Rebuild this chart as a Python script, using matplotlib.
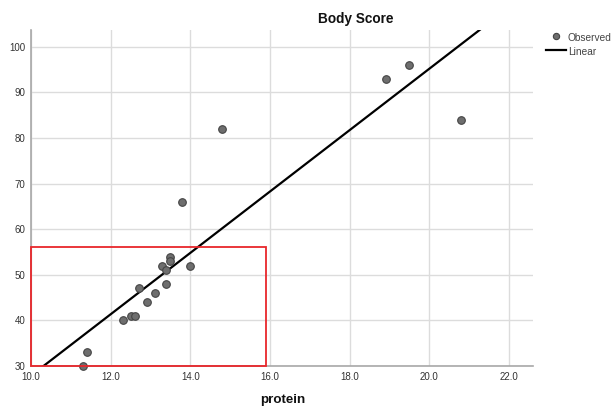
import numpy as np
import matplotlib
matplotlib.use("Agg")
import matplotlib.pyplot as plt
from matplotlib.patches import Rectangle

protein = [11.3, 11.4, 12.3, 12.5, 12.6, 12.7, 12.9, 13.1, 13.3, 13.4, 13.4,
           13.5, 13.5, 14.0, 13.8, 14.8, 18.9, 19.5, 20.8]
body_score = [30, 33, 40, 41, 41, 47, 44, 46, 52, 48, 51,
              54, 53, 52, 66, 82, 93, 96, 84]
x_ticks = [10.0, 12.0, 14.0, 16.0, 18.0, 20.0, 22.0]
y_ticks = [30, 40, 50, 60, 70, 80, 90, 100]
highlight_box = (10.0, 30, 15.9, 56.2)  # x0, y0, x1, y1

plt.rcParams['font.family'] = ['Liberation Sans', 'DejaVu Sans']

fig = plt.figure(figsize=(6.12, 4.12), dpi=100)
W, H = 612, 412
ax = fig.add_axes([31 / W, (H - 366) / H, (533 - 31) / W, (366 - 30) / H])

xmin, xmax = 10.0, 22.6
ymin, ymax = 30, 103.7
ax.set_xlim(xmin, xmax)
ax.set_ylim(ymin, ymax)

ax.set_xticks(x_ticks)
ax.set_xticklabels([f"{v:.1f}" for v in x_ticks])
ax.set_yticks(y_ticks)
ax.set_yticklabels([str(v) for v in y_ticks])
ax.grid(True, color='#dcdcdc', linewidth=1.0)
ax.set_axisbelow(True)
for s in ['top', 'right']:
    ax.spines[s].set_visible(False)
for s in ['left', 'bottom']:
    ax.spines[s].set_color('#a8a8a8')
    ax.spines[s].set_linewidth(1.2)
ax.tick_params(length=0, labelsize=7, colors='#333333', pad=4)

# fit line
slope, intercept = np.polyfit(protein, body_score, 1)
xs = np.array([xmin, xmax])
ax.plot(xs, intercept + slope * xs, color='black', linewidth=1.6, zorder=3,
        clip_on=True)

ax.scatter(protein, body_score, s=30, facecolor='#6e6e6e', edgecolor='#444444',
           linewidth=0.8, zorder=4, clip_on=False)

x0, y0, x1, y1 = highlight_box
ax.add_patch(Rectangle((x0, y0), x1 - x0, y1 - y0, fill=False,
                       edgecolor='#e8262b', linewidth=1.3, zorder=5,
                       clip_on=False))

fig.text(356 / W, 1 - 19 / H, "Body Score", ha='center', va='center',
         fontsize=9.8, fontweight='bold', color='#111111')
fig.text(283 / W, 1 - 400 / H, "protein", ha='center', va='center',
         fontsize=9.6, fontweight='bold', color='#111111')

# legend
fig.lines.append(plt.Line2D([556 / W], [1 - 36 / H], marker='o', markersize=4.5,
                            markerfacecolor='#6e6e6e', markeredgecolor='#444444',
                            markeredgewidth=0.8, linestyle='none',
                            transform=fig.transFigure))
fig.lines.append(plt.Line2D([546 / W, 566 / W], [1 - 50 / H, 1 - 50 / H],
                            color='black', linewidth=1.6,
                            transform=fig.transFigure))
fig.text(568 / W, 1 - 38 / H, "Observed", ha='left', va='center',
         fontsize=7.3, color='#444444')
fig.text(568 / W, 1 - 52 / H, "Linear", ha='left', va='center',
         fontsize=7.3, color='#444444')

fig.savefig("out.png", dpi=100)
